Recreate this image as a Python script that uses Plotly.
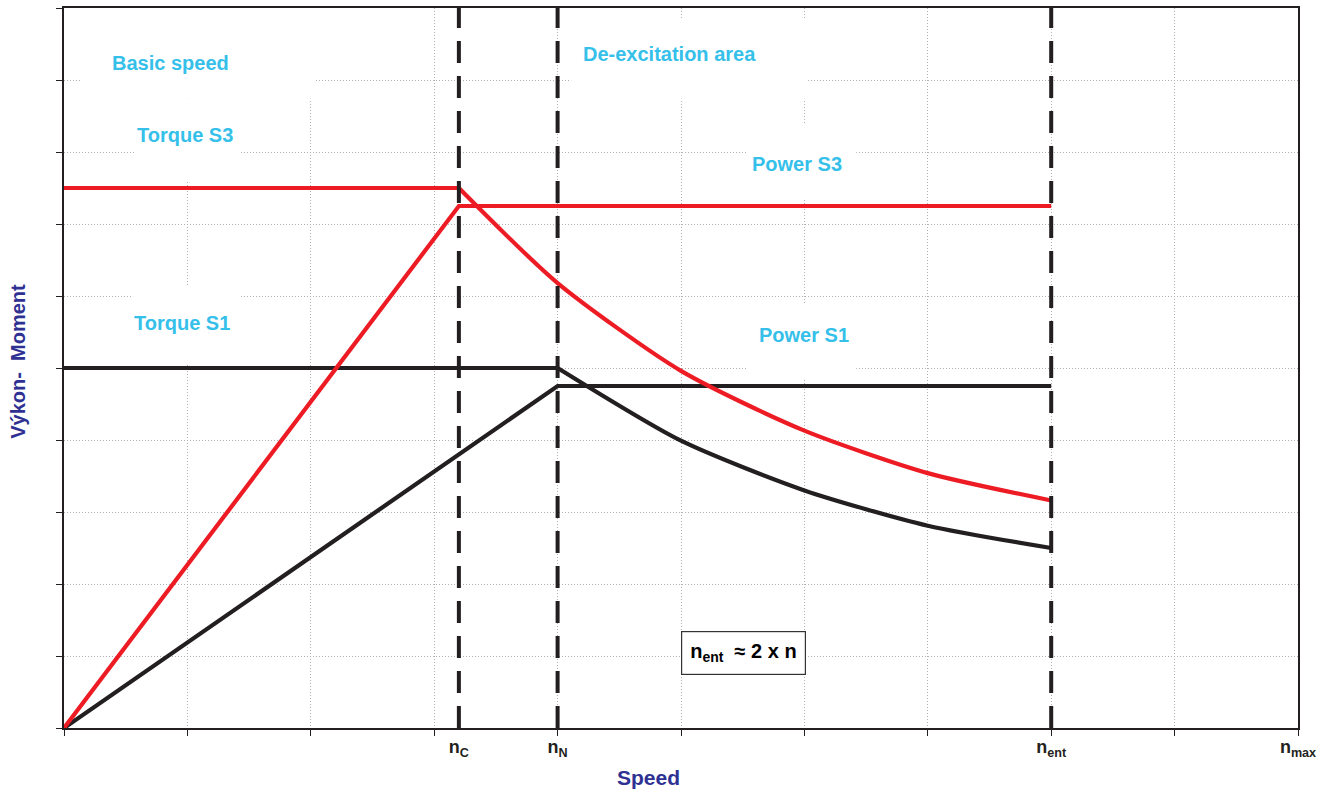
import plotly.graph_objects as go

# ---------------- data ----------------
speed_torque_s3 = [0, 3.2, 4, 5, 6, 7, 8]
torque_s3 = [7.5, 7.5, 6.18, 4.96, 4.13, 3.54, 3.16]

speed_power_s3 = [0, 3.2, 8]
power_s3 = [0, 7.25, 7.25]

speed_torque_s1 = [0, 4, 5, 6, 7, 8]
torque_s1 = [5.0, 5.0, 3.99, 3.30, 2.81, 2.50]

speed_power_s1 = [0, 4, 8]
power_s1 = [0, 4.75, 4.75]

marker_speeds = [3.2, 4, 8, 10]
marker_labels = ["<b>n<sub>C</sub></b>", "<b>n<sub>N</sub></b>",
                 "<b>n<sub>ent</sub></b>", "<b>n<sub>max</sub></b>"]
dashed_speeds = [3.2, 4, 8]

region_labels = ["Basic speed", "Torque S3", "De-excitation area", "Power S3", "Torque S1", "Power S1"]
x_range = [0, 10]
y_range = [0, 10]

# ---------------- styles ----------------
RED = "#ED1C24"
BLACK = "#231F20"
CYAN = "#35C0EA"
NAVY = "#2E3192"
FONT = "Liberation Sans, Arial, sans-serif"
LW = 4.2

fig = go.Figure()

def add_curve(xs, ys, color, name):
    # flat part (linear) then falling part (smooth)
    fig.add_trace(go.Scatter(x=xs[:2], y=ys[:2], mode="lines",
                             line=dict(color=color, width=LW), name=name, showlegend=False,
                             hoverinfo="skip"))
    fig.add_trace(go.Scatter(x=xs[1:], y=ys[1:], mode="lines",
                             line=dict(color=color, width=LW, shape="spline", smoothing=0.7),
                             name=name, showlegend=False, hoverinfo="skip"))

add_curve(speed_torque_s1, torque_s1, BLACK, "Torque S1")
fig.add_trace(go.Scatter(x=speed_power_s1, y=power_s1, mode="lines",
                         line=dict(color=BLACK, width=LW), name="Power S1", showlegend=False))
add_curve(speed_torque_s3, torque_s3, RED, "Torque S3")
fig.add_trace(go.Scatter(x=speed_power_s3, y=power_s3, mode="lines",
                         line=dict(color=RED, width=LW), name="Power S3", showlegend=False))

for xs in dashed_speeds:
    fig.add_trace(go.Scatter(x=[xs, xs], y=[y_range[0], y_range[1]], mode="lines",
                             line=dict(color=BLACK, width=4, dash="22px,13px"),
                             showlegend=False, hoverinfo="skip"))

# invisible trace to anchor the labelled x axis
fig.add_trace(go.Scatter(x=marker_speeds, y=[0] * len(marker_speeds), xaxis="x2",
                         mode="markers", marker=dict(opacity=0), showlegend=False,
                         hoverinfo="skip"))

# white backgrounds behind the region labels (between grid and traces)
label_boxes = [
    (0.13, 2.03, 8.74, 10.0),
    (0.58, 1.42, 7.59, 8.74),
    (4.11, 6.03, 8.74, 9.86),
    (5.53, 6.42, 7.34, 8.38),
    (0.56, 1.42, 5.07, 6.14),
    (5.53, 6.42, 4.86, 5.90),
]
for x0, x1, y0, y1 in label_boxes:
    fig.add_shape(type="rect", x0=x0, x1=x1, y0=y0, y1=y1, xref="x", yref="y",
                  line=dict(width=0), fillcolor="white", layer="between")

label_pos = [(0.866, 9.24), (0.98, 8.24), (4.91, 9.36), (5.94, 7.83), (0.955, 5.62), (6.0, 5.46)]
for text, (lx, ly) in zip(region_labels, label_pos):
    fig.add_annotation(x=lx, y=ly, xref="x", yref="y", text=f"<b>{text}</b>",
                       showarrow=False, font=dict(family=FONT, size=20, color=CYAN),
                       xanchor="center", yanchor="middle")

# boxed note
fig.add_annotation(x=5.51, y=1.04, xref="x", yref="y",
                   text="<b>n<sub>ent</sub>  ≈ 2 x n</b>", showarrow=False,
                   font=dict(family=FONT, size=20, color="black"),
                   bgcolor="white", bordercolor="#333", borderwidth=1.2, borderpad=8,
                   xanchor="center", yanchor="middle")

# axis titles
fig.add_annotation(x=-0.0373, y=0.51, xref="paper", yref="paper",
                   text="<b>Výkon-  Moment</b>", textangle=-90, showarrow=False,
                   font=dict(family=FONT, size=20, color=NAVY),
                   xanchor="center", yanchor="middle")
fig.add_annotation(x=0.474, y=-0.069, xref="paper", yref="paper",
                   text="<b>Speed</b>", showarrow=False,
                   font=dict(family=FONT, size=21, color=NAVY),
                   xanchor="center", yanchor="middle")

grid = dict(showgrid=True, gridcolor="#B0B0B0", gridwidth=1, griddash="1px,2px")

fig.update_layout(
    width=1327, height=790,
    margin=dict(l=64, r=29, t=6, b=62),
    paper_bgcolor="white", plot_bgcolor="white",
    showlegend=False,
    xaxis=dict(range=x_range, tickmode="linear", tick0=0, dtick=1, showticklabels=False,
               ticks="outside", ticklen=6, tickcolor=BLACK, tickwidth=1,
               showline=True, linecolor=BLACK, linewidth=2, mirror=True,
               zeroline=False, **grid),
    xaxis2=dict(range=x_range, overlaying="x", side="bottom", anchor="y",
                tickmode="array", tickvals=marker_speeds, ticktext=marker_labels,
                ticks="", showgrid=False, zeroline=False, showline=False,
                tickfont=dict(family=FONT, size=18, color=BLACK), ticklabelstandoff=6),
    yaxis=dict(range=y_range, tickmode="linear", tick0=0, dtick=1, showticklabels=False,
               ticks="outside", ticklen=6, tickcolor=BLACK, tickwidth=1,
               showline=True, linecolor=BLACK, linewidth=2, mirror=True,
               zeroline=False, **grid),
)

fig.write_html("out.html", config={"displayModeBar": False},
               post_script="document.body.style.margin='0';document.body.style.overflow='hidden';")
